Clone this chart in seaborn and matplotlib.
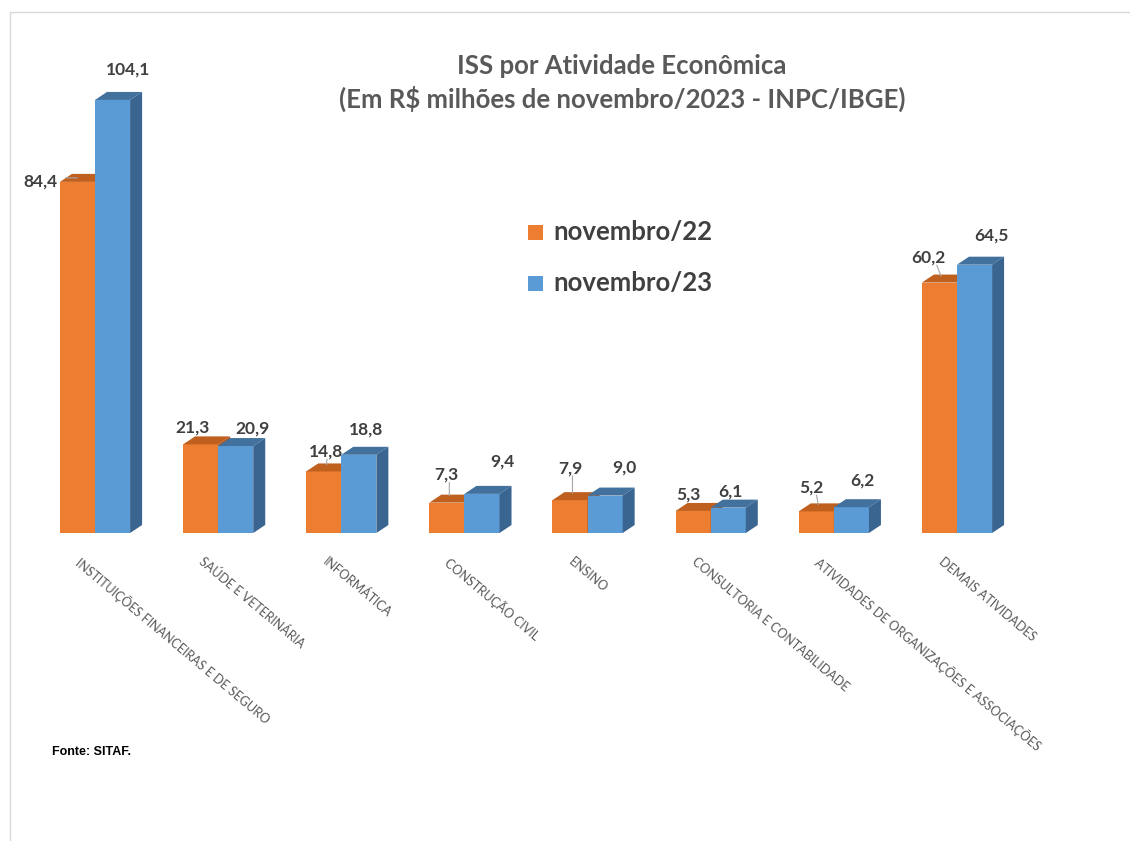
import matplotlib
matplotlib.use("Agg")
import matplotlib.pyplot as plt
import matplotlib.transforms as mtransforms
from matplotlib.patches import Polygon, Rectangle
import pandas as pd
import seaborn as sns

# ---- data ----
categories = [
    "INSTITUIÇÕES FINANCEIRAS E DE SEGURO",
    "SAÚDE E VETERINÁRIA",
    "INFORMÁTICA",
    "CONSTRUÇÃO CIVIL",
    "ENSINO",
    "CONSULTORIA E CONTABILIDADE",
    "ATIVIDADES DE ORGANIZAÇÕES E ASSOCIAÇÕES",
    "DEMAIS ATIVIDADES",
]
series_names = ["novembro/22", "novembro/23"]
nov22 = [84.4, 21.3, 14.8, 7.3, 7.9, 5.3, 5.2, 60.2]
nov23 = [104.1, 20.9, 18.8, 9.4, 9.0, 6.1, 6.2, 64.5]

title = "ISS por Atividade Econômica\n(Em R$ milhões de novembro/2023 - INPC/IBGE)"
source = "Fonte: SITAF."

# ---- styling ----
front_colors = {"novembro/22": "#ED7D31", "novembro/23": "#5B9BD5"}
top_colors = {"novembro/22": "#C0601F", "novembro/23": "#41719C"}
side_colors = {"novembro/22": "#A9541B", "novembro/23": "#3A6590"}
text_gray = "#595959"

# value-label offsets in pixels (dx, dy) from the top centre of each bar
label_offsets = {
    "novembro/22": [(-37, 0), (-8, 17), (2, 20), (0, 28), (0, 32), (-5, 16), (-5, 24), (-11, 25)],
    "novembro/23": [(16, 30), (17, 18), (7, 25), (20, 32), (19, 28), (2, 16), (11, 27), (17, 29)],
}
leader = {"novembro/22": [True, False, True, True, True, False, True, True],
          "novembro/23": [False] * 8}

df = pd.DataFrame({
    "categoria": categories * 2,
    "serie": [series_names[0]] * len(categories) + [series_names[1]] * len(categories),
    "valor": nov22 + nov23,
})

sns.set_theme(style="white")
plt.rcParams["font.family"] = ["Lato", "DejaVu Sans"]

W, H, DPI = 1130, 841, 100
fig = plt.figure(figsize=(W / DPI, H / DPI), dpi=DPI)

# axes geometry in pixels
x_lo, x_hi = -0.7, 7.7
y_lo, y_hi = 0, 120
px_per_x = 123.14
px_per_y = 4.16
ax_left_px = 95 - (0 - x_lo) * px_per_x
ax_w_px = (x_hi - x_lo) * px_per_x
ax_bottom_px = H - 533
ax_h_px = (y_hi - y_lo) * px_per_y
ax = fig.add_axes([ax_left_px / W, ax_bottom_px / H, ax_w_px / W, ax_h_px / H])

sns.barplot(data=df, x="categoria", y="valor", hue="serie", order=categories,
            hue_order=series_names, palette=front_colors, width=0.57,
            saturation=1, ax=ax, legend=False, edgecolor="none", linewidth=0)

ax.set_xlim(x_lo, x_hi)
ax.set_ylim(y_lo, y_hi)
for s in ax.spines.values():
    s.set_visible(False)
ax.set_yticks([])
ax.set_xlabel("")
ax.set_ylabel("")

# 3D depth of each bar (pixels -> data units)
depth_dx = 12 / px_per_x
depth_dy = 8 / px_per_y

patches = list(ax.patches)
n = len(categories)
values = {"novembro/22": nov22, "novembro/23": nov23}
for si, name in enumerate(series_names):
    for ci in range(n):
        p = patches[si * n + ci]
        x0 = p.get_x()
        x1 = x0 + p.get_width()
        v = p.get_height()
        z = 2 + 2 * si
        p.set_zorder(z)
        top = Polygon([(x0, v), (x1, v), (x1 + depth_dx, v + depth_dy), (x0 + depth_dx, v + depth_dy)],
                      closed=True, facecolor=top_colors[name], edgecolor="none", zorder=z + 0.5)
        side = Polygon([(x1, 0), (x1 + depth_dx, depth_dy), (x1 + depth_dx, v + depth_dy), (x1, v)],
                       closed=True, facecolor=side_colors[name], edgecolor="none", zorder=z + 0.5)
        ax.add_patch(top)
        ax.add_patch(side)

        # value label
        dx, dy = label_offsets[name][ci]
        xc = (x0 + x1) / 2
        ax.annotate(f"{values[name][ci]:.1f}".replace(".", ","), xy=(xc, v),
                    xytext=(dx * 72 / DPI, dy * 72 / DPI), textcoords="offset points",
                    ha="center", va="center", fontsize=12.5, fontweight="bold",
                    color="#404040", zorder=10)
        if leader[name][ci]:
            if dy > 10:
                start = (dx * 72 / DPI * 0.55, (dy - 9) * 72 / DPI)
            else:
                start = ((dx + 20) * 72 / DPI, 0)
            ax.annotate("", xy=(xc + 0.02, v + depth_dy * 0.5),
                        xytext=start, textcoords="offset points",
                        arrowprops=dict(arrowstyle="-", color="#A6A6A6", lw=0.8),
                        zorder=9)

# category labels, slanted down to the right
ax.set_xticks(range(n))
ax.set_xticklabels(categories, rotation=-40, ha="left", va="top",
                   rotation_mode="anchor", fontsize=9, color=text_gray)
ax.tick_params(axis="x", length=0, pad=16)
shift = mtransforms.ScaledTranslation(-13 / DPI, 0, fig.dpi_scale_trans)
for lab in ax.get_xticklabels():
    lab.set_transform(lab.get_transform() + shift)

# title
fig.text(622 / W, 1 - 83 / H, title, ha="center", va="center", fontsize=18.5,
         fontweight="bold", color=text_gray, linespacing=1.38)

# legend
for k, name in enumerate(series_names):
    yc = 232 + 51 * k
    fig.patches.append(Rectangle(((528) / W, 1 - (yc + 8) / H), 15 / W, 15 / H,
                                 transform=fig.transFigure, facecolor=front_colors[name],
                                 edgecolor="none"))
    fig.text(553 / W, 1 - yc / H, name, ha="left", va="center", fontsize=18.5,
             fontweight="bold", color="#404040")

# source
fig.text(52 / W, 1 - 752 / H, source, ha="left", va="center", fontsize=9,
         fontweight="bold", color="black", family=["Liberation Sans", "DejaVu Sans"])

# chart border
fig.patches.append(Rectangle((10 / W, -0.05), 1.2, 1 - 12 / H + 0.05,
                             transform=fig.transFigure, facecolor="none",
                             edgecolor="#D9D9D9", linewidth=1))

fig.savefig("out.png", dpi=DPI)
